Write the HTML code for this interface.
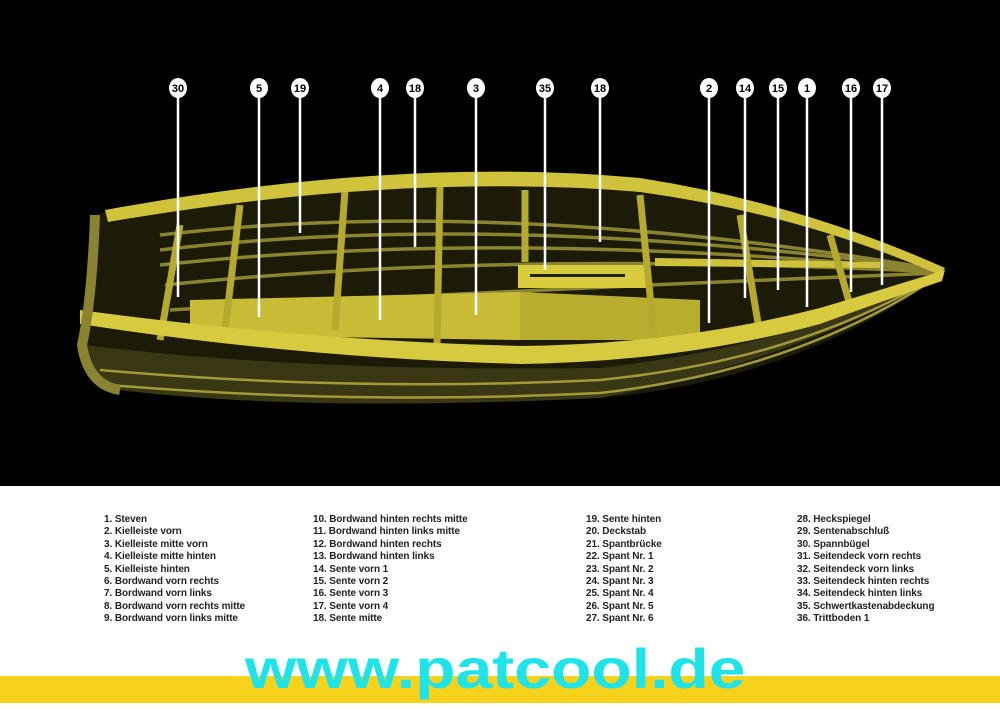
<!DOCTYPE html>
<html><head><meta charset="utf-8"><style>
body{margin:0;width:1000px;height:709px;overflow:hidden;background:#fff;position:relative;font-family:"Liberation Sans",sans-serif}
#top{position:absolute;left:0;top:0;width:1000px;height:486px;background:#000}
.leg{position:absolute;top:514px;font-size:10px;font-weight:bold;line-height:12.4px;color:#222;letter-spacing:-0.1px;white-space:pre}
#url{position:absolute;left:245px;top:636px;font-size:56px;font-weight:bold;color:#1ee3e8;z-index:2;transform:scaleX(1.18);transform-origin:0 0}
#band{position:absolute;left:0;top:676px;width:1000px;height:27px;background:#f6d21c}
</style></head><body>
<div id="top"></div>
<svg width="1000" height="486" style="position:absolute;left:0;top:0">
<path d="M95,215 Q92,300 82,345 Q88,385 120,390 Q300,412 600,398 Q800,380 945,272 Q800,220 640,182 Q400,160 110,210 Z" fill="#1c1b08"/>
<g stroke="#8a8330" stroke-width="3.5" fill="none">
<path d="M160,235 Q500,195 940,270"/>
<path d="M160,250 Q500,210 940,270"/>
<path d="M160,265 Q500,228 940,271"/>
<path d="M165,285 Q500,250 940,272"/>
<path d="M170,310 Q500,290 940,273"/>
</g>
<path d="M85,345 Q300,372 600,368 Q800,345 945,272 Q800,360 600,398 Q300,412 120,390 Q88,385 85,345Z" fill="#3a3814"/>
<g stroke="#a29a38" stroke-width="2.5" fill="none">
<path d="M100,370 Q350,392 600,380 Q800,360 940,274"/>
<path d="M110,385 Q350,405 600,393 Q800,370 940,275"/>
</g>
<polygon points="190,300 520,292 520,340 190,335" fill="#c9bb35"/>
<polygon points="520,292 700,300 700,340 520,340" fill="#b9ad30"/>
<polygon points="518,265 650,265 650,288 518,288" fill="#d8cb3c"/>
<rect x="530" y="274" width="95" height="3" fill="#222"/>
<polygon points="655,258 880,262 880,268 655,266" fill="#cfc13a"/>
<g stroke="#b5a92e" stroke-width="7" fill="none">
<path d="M240,205 L225,330"/><path d="M345,190 L335,330"/><path d="M440,185 L437,345"/>
<path d="M525,190 L525,262"/><path d="M640,195 L655,345"/><path d="M740,215 L760,335"/><path d="M830,235 L850,305"/>
<path d="M180,225 L160,340"/>
</g>
<path d="M105,210 Q400,156 640,178 Q800,203 945,268 L940,275 Q800,214 640,192 Q400,172 108,222Z" fill="#d0c23a"/>
<path d="M80,310 Q300,340 520,346 Q680,344 820,308 Q880,290 945,270 L942,281 Q880,302 820,324 Q680,362 520,364 Q300,358 80,324Z" fill="#d8ca3e"/>
<path d="M95,215 Q92,300 82,345 Q88,385 120,390" stroke="#8a8330" stroke-width="10" fill="none"/>
<g stroke="#fff" stroke-width="2.5">
<line x1="178" y1="96" x2="178" y2="297"/><line x1="259" y1="96" x2="259" y2="317"/>
<line x1="300" y1="96" x2="300" y2="233"/><line x1="380" y1="96" x2="380" y2="320"/>
<line x1="415" y1="96" x2="415" y2="247"/><line x1="476" y1="96" x2="476" y2="315"/>
<line x1="545" y1="96" x2="545" y2="270"/><line x1="600" y1="96" x2="600" y2="242"/>
<line x1="709" y1="96" x2="709" y2="323"/><line x1="745" y1="96" x2="745" y2="298"/>
<line x1="778" y1="96" x2="778" y2="290"/><line x1="807" y1="96" x2="807" y2="307"/>
<line x1="851" y1="96" x2="851" y2="292"/><line x1="882" y1="96" x2="882" y2="285"/>
</g>
<g fill="#fff">
<ellipse cx="178" cy="88" rx="9" ry="10"/><ellipse cx="259" cy="88" rx="9" ry="10"/><ellipse cx="300" cy="88" rx="9" ry="10"/>
<ellipse cx="380" cy="88" rx="9" ry="10"/><ellipse cx="415" cy="88" rx="9" ry="10"/><ellipse cx="476" cy="88" rx="9" ry="10"/>
<ellipse cx="545" cy="88" rx="9" ry="10"/><ellipse cx="600" cy="88" rx="9" ry="10"/><ellipse cx="709" cy="88" rx="9" ry="10"/>
<ellipse cx="745" cy="88" rx="9" ry="10"/><ellipse cx="778" cy="88" rx="9" ry="10"/><ellipse cx="807" cy="88" rx="9" ry="10"/>
<ellipse cx="851" cy="88" rx="9" ry="10"/><ellipse cx="882" cy="88" rx="9" ry="10"/>
</g>
<g font-family="Liberation Sans,sans-serif" font-weight="bold" font-size="11" text-anchor="middle" fill="#000">
<text x="178" y="92">30</text><text x="259" y="92">5</text><text x="300" y="92">19</text><text x="380" y="92">4</text>
<text x="415" y="92">18</text><text x="476" y="92">3</text><text x="545" y="92">35</text><text x="600" y="92">18</text>
<text x="709" y="92">2</text><text x="745" y="92">14</text><text x="778" y="92">15</text><text x="807" y="92">1</text>
<text x="851" y="92">16</text><text x="882" y="92">17</text>
</g>
</svg>
<div class="leg" style="left:104px">1. Steven
2. Kielleiste vorn
3. Kielleiste mitte vorn
4. Kielleiste mitte hinten
5. Kielleiste hinten
6. Bordwand vorn rechts
7. Bordwand vorn links
8. Bordwand vorn rechts mitte
9. Bordwand vorn links mitte</div>
<div class="leg" style="left:313px">10. Bordwand hinten rechts mitte
11. Bordwand hinten links mitte
12. Bordwand hinten rechts
13. Bordwand hinten links
14. Sente vorn 1
15. Sente vorn 2
16. Sente vorn 3
17. Sente vorn 4
18. Sente mitte</div>
<div class="leg" style="left:586px">19. Sente hinten
20. Deckstab
21. Spantbrücke
22. Spant Nr. 1
23. Spant Nr. 2
24. Spant Nr. 3
25. Spant Nr. 4
26. Spant Nr. 5
27. Spant Nr. 6</div>
<div class="leg" style="left:797px">28. Heckspiegel
29. Sentenabschluß
30. Spannbügel
31. Seitendeck vorn rechts
32. Seitendeck vorn links
33. Seitendeck hinten rechts
34. Seitendeck hinten links
35. Schwertkastenabdeckung
36. Trittboden 1</div>
<div id="band"></div>
<div id="url">www.patcool.de</div>
</body></html>
